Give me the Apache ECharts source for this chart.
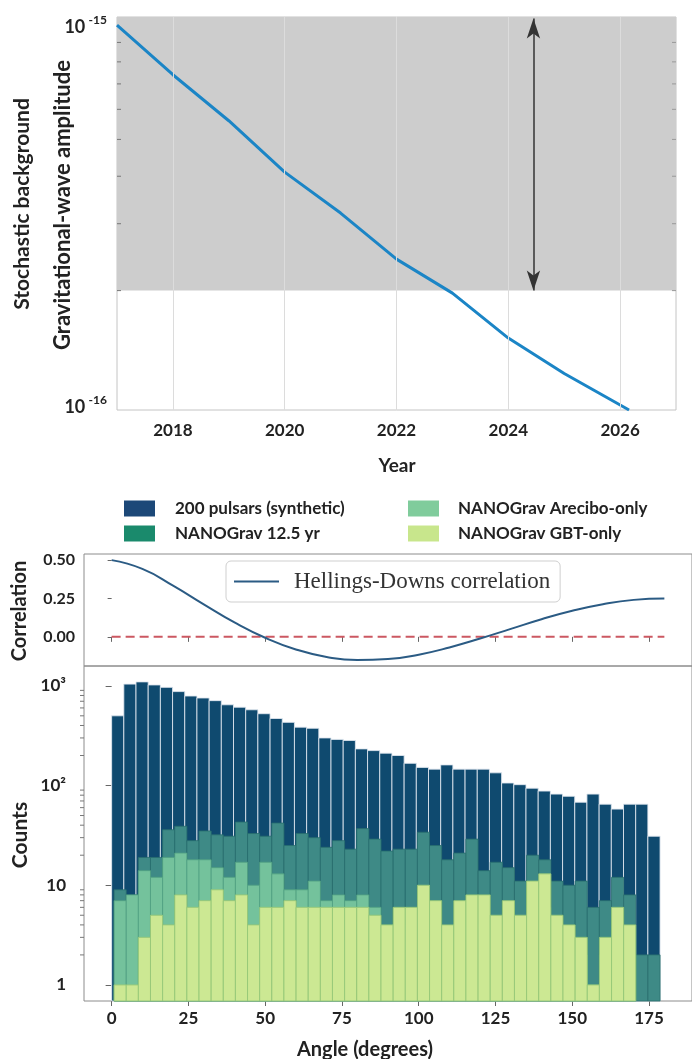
<!DOCTYPE html>
<html>
<head>
<meta charset="utf-8">
<title>PTA sensitivity and pulsar-pair histogram</title>
<script src="https://cdn.jsdelivr.net/npm/echarts@6/dist/echarts.min.js"></script>
<style>
  html, body { margin: 0; padding: 0; background: #fff; }
  #chart { width: 692px; height: 1059px; }
</style>
</head>
<body>
<div id="chart"></div>
<script>
// ---- top panel: projected upper limit on GW background amplitude ----
const years = [2017, 2018, 2019, 2020, 2021, 2022, 2023, 2024, 2025, 2026.16];
const amplitude = [1.0e-15, 7.4e-16, 5.6e-16, 4.1e-16, 3.2e-16, 2.42e-16, 1.97e-16, 1.50e-16, 1.21e-16, 0.97e-16];
const yearTicks = [2018, 2020, 2022, 2024, 2026];
const signalRange = [2e-16, 1.05e-15];   // shaded "expected signal" band
const arrowYear = 2024.45;

// ---- middle panel: Hellings-Downs curve ----
const hdAngle = [0, 10, 20, 30, 40, 50, 60, 70, 80, 90, 100, 110, 120, 130, 140, 150, 160, 170, 180];
const hdCorr = [0.500, 0.443, 0.334, 0.212, 0.094, -0.006, -0.082, -0.131, -0.151, -0.145,
                -0.116, -0.069, -0.011, 0.052, 0.115, 0.170, 0.213, 0.241, 0.250];
const angleTicks = [0, 25, 50, 75, 100, 125, 150, 175];

// ---- bottom panel: pulsar-pair counts per 4 degree bin ----
const pulsarRange = [0, 178.6];
const nanoRange = [0.8, 178.6];
const counts200 = [500, 1040, 1095, 1020, 965, 875, 790, 755, 710, 645, 610, 575, 525, 470, 430, 385, 375, 300, 290, 283,
                   233, 224, 211, 200, 167, 152, 146, 161, 146, 146, 146, 134, 106, 102, 94, 88, 82, 78, 68, 82,
                   65, 58, 65, 65, 31];
const countsNG125 = [9, 8, 19, 19, 36, 39, 28, 35, 32, 31, 43, 33, 31, 42, 25, 33, 30, 24, 28, 23,
                     37, 29, 22, 23, 23, 34, 25, 18, 21, 29, 14, 17, 15, 11, 20, 18, 11, 10, 11, 6,
                     7, 12, 8, 2, 2];
const countsArecibo = [7, 8, 14, 12, 19, 21, 18, 18, 15, 12, 17, 10, 17, 13, 9, 9, 11, 7, 8, 7,
                       8, 6, 4, 4, 4, 5, 4, 3, 4, 5, 4, 3, 4, 3, 5, 6, 3, 3, 2, 1,
                       2, 3, 2, null, null];
const countsGBT = [1, 1, 3, 5, 4, 8, 6, 7, 9, 7, 8, 4, 6, 6, 7, 6, 6, 6, 6, 6,
                   6, 5, 4, 6, 6, 10, 7, 4, 7, 8, 8, 5, 7, 5, 11, 13, 5, 4, 3, 1,
                   3, 6, 4, null, null];

const FONT = 'Lato, "Open Sans", sans-serif';
const INK = '#222';

const myChart = echarts.init(document.getElementById('chart'), null, { renderer: 'canvas' });

function isDecade(v) {
  const e = Math.log10(v);
  return Math.abs(e - Math.round(e)) < 1e-3;
}

function histSeries(name, counts, range, fill, edge, legendColor, z) {
  const w = (range[1] - range[0]) / counts.length;
  const data = [];
  counts.forEach((c, i) => {
    if (c != null) data.push([range[0] + i * w, range[0] + (i + 1) * w, c]);
  });
  return {
    name: name,
    type: 'custom',
    xAxisIndex: 2,
    yAxisIndex: 2,
    z: z,
    itemStyle: { color: legendColor },
    encode: { x: [0, 1], y: 2 },
    data: data,
    renderItem(params, api) {
      const a = api.coord([api.value(0), api.value(2)]);
      const b = api.coord([api.value(1), api.value(2)]);
      const base = params.coordSys.y + params.coordSys.height;
      return {
        type: 'rect',
        shape: { x: a[0], y: a[1], width: b[0] - a[0], height: base - a[1] },
        style: { fill: fill, stroke: edge, lineWidth: 1 }
      };
    }
  };
}

// log minor ticks (2..9 x 10^k), drawn through the axis scale
function minorTickSeries(xi, yi, values, xAt, inside, bothSides) {
  return {
    type: 'custom',
    xAxisIndex: xi,
    yAxisIndex: yi,
    z: 6,
    silent: true,
    encode: { x: 0, y: 1 },
    data: values.map(v => [xAt, v]),
    renderItem(params, api) {
      const cs = params.coordSys;
      const y = api.coord([api.value(0), api.value(1)])[1];
      const children = [];
      const len = 4;
      children.push({
        type: 'line',
        shape: inside ? { x1: cs.x, y1: y, x2: cs.x + len, y2: y } : { x1: cs.x - len, y1: y, x2: cs.x, y2: y },
        style: { stroke: '#777', lineWidth: 1 }
      });
      if (bothSides) {
        children.push({
          type: 'line',
          shape: { x1: cs.x + cs.width - len, y1: y, x2: cs.x + cs.width, y2: y },
          style: { stroke: '#999', lineWidth: 1 }
        });
      }
      return { type: 'group', children: children };
    }
  };
}

const histMinor = [];
[1, 10, 100, 1000].forEach(d => [2, 3, 4, 5, 6, 7, 8, 9].forEach(m => { if (m * d < 1580) histMinor.push(m * d); }));
const ampMinor = [2, 3, 4, 5, 6, 7, 8, 9].map(m => m * 1e-16);

const sup = { 2: '\u00b2', 3: '\u00b3' };

let option = {
  animation: false,
  backgroundColor: '#fff',
  grid: [
    { left: 117, right: 16, top: 17, height: 393, show: true, borderColor: '#c4c4c4', borderWidth: 1, backgroundColor: '#fff' },
    { left: 84, right: -6, top: 554, height: 112, show: true, borderColor: '#8c8c8c', borderWidth: 1 },
    { left: 84, right: -6, top: 666, height: 335, show: true, borderColor: '#8c8c8c', borderWidth: 1 }
  ],
  xAxis: [
    {
      type: 'value', gridIndex: 0, min: 2017, max: 2027,
      axisLine: { show: false }, axisTick: { show: false }, splitLine: { show: false },
      axisLabel: {
        customValues: yearTicks, margin: 12,
        formatter: v => String(v),
        fontFamily: FONT, fontWeight: 'bold', fontSize: 17, color: INK
      }
    },
    {
      type: 'value', gridIndex: 1, min: -9, max: 189,
      axisLine: { show: false }, splitLine: { show: false },
      axisTick: { customValues: angleTicks, length: 5, lineStyle: { color: '#666' } },
      axisLabel: { show: false }
    },
    {
      type: 'value', gridIndex: 2, min: -9, max: 189,
      axisLine: { show: false }, splitLine: { show: false },
      axisTick: { customValues: angleTicks, length: 5, lineStyle: { color: '#666' } },
      axisLabel: {
        customValues: angleTicks, margin: 9,
        formatter: v => String(v),
        fontFamily: FONT, fontWeight: 'bold', fontSize: 17, color: INK
      }
    }
  ],
  yAxis: [
    {
      type: 'log', gridIndex: 0, min: 0.97e-16, max: 1.05e-15,
      axisLine: { show: false }, axisTick: { show: false }, splitLine: { show: false },
      axisLabel: {
        showMinLabel: false, showMaxLabel: false, margin: 10,
        formatter: v => isDecade(v) ? '{b|10} {s|' + Math.round(Math.log10(v)) + '}' : '',
        rich: {
          b: { fontFamily: FONT, fontWeight: 'bold', fontSize: 18, color: INK, lineHeight: 22, verticalAlign: 'bottom' },
          s: { fontFamily: FONT, fontWeight: 'bold', fontSize: 12, color: INK, lineHeight: 12, verticalAlign: 'top' }
        }
      }
    },
    {
      type: 'value', gridIndex: 1, min: -0.19, max: 0.54,
      axisLine: { show: false }, splitLine: { show: false },
      axisTick: { customValues: [0, 0.25, 0.5], length: 4, lineStyle: { color: '#666' } },
      axisLabel: {
        customValues: [0, 0.25, 0.5], margin: 9,
        formatter: v => v.toFixed(2),
        fontFamily: FONT, fontWeight: 'bold', fontSize: 16, color: INK
      }
    },
    {
      type: 'log', gridIndex: 2, min: 0.69, max: 1580,
      axisLine: { show: false }, splitLine: { show: false },
      axisTick: { length: 6, lineStyle: { color: '#666' } },
      axisLabel: {
        showMinLabel: false, showMaxLabel: false, margin: 18,
        formatter: v => {
          if (!isDecade(v)) return '';
          const e = Math.round(Math.log10(v));
          return e === 0 ? '1' : e === 1 ? '10' : '10' + sup[e];
        },
        fontFamily: FONT, fontWeight: 'bold', fontSize: 17, color: INK
      }
    }
  ],
  legend: [
    {
      data: ['200 pulsars (synthetic)', 'NANOGrav 12.5 yr'],
      left: 124, top: 500, padding: 0, orient: 'vertical',
      icon: 'rect', itemWidth: 31, itemHeight: 16, itemGap: 8, selectedMode: false,
      textStyle: { fontFamily: FONT, fontWeight: 'bold', fontSize: 17, color: INK, padding: [0, 0, 0, 15] }
    },
    {
      data: ['NANOGrav Arecibo-only', 'NANOGrav GBT-only'],
      left: 408, top: 500, padding: 0, orient: 'vertical',
      icon: 'rect', itemWidth: 31, itemHeight: 16, itemGap: 8, selectedMode: false,
      textStyle: { fontFamily: FONT, fontWeight: 'bold', fontSize: 17, color: INK, padding: [0, 0, 0, 14] }
    },
    {
      data: ['Hellings-Downs correlation'],
      left: 226, top: 561, padding: [9, 10, 9, 8],
      borderColor: '#cfcfcf', borderWidth: 1, borderRadius: 5, backgroundColor: '#fff',
      icon: 'rect', itemWidth: 45, itemHeight: 2, selectedMode: false,
      textStyle: { fontFamily: '"Liberation Serif", "DejaVu Serif", serif', fontSize: 23, lineHeight: 21, color: '#333', padding: [0, 0, 0, 10] }
    }
  ],
  graphic: [
    { type: 'text', x: 22, y: 204, rotation: Math.PI / 2,
      style: { text: 'Stochastic background', font: 'bold 21px ' + FONT, fill: INK, align: 'center', verticalAlign: 'middle' } },
    { type: 'text', x: 63, y: 205, rotation: Math.PI / 2,
      style: { text: 'Gravitational-wave amplitude', font: 'bold 22px ' + FONT, fill: INK, align: 'center', verticalAlign: 'middle' } },
    { type: 'text', x: 397, y: 466,
      style: { text: 'Year', font: 'bold 19px ' + FONT, fill: INK, align: 'center', verticalAlign: 'middle' } },
    { type: 'text', x: 544, y: 117,
      style: { text: 'Expected\nstochastic\nbackground\nsignal range', font: 'bold 18px ' + FONT, lineHeight: 24,
               fill: INK, align: 'left', verticalAlign: 'top' } },
    { type: 'text', x: 20, y: 611, rotation: Math.PI / 2,
      style: { text: 'Correlation', font: 'bold 20px ' + FONT, fill: INK, align: 'center', verticalAlign: 'middle' } },
    { type: 'text', x: 20, y: 835, rotation: Math.PI / 2,
      style: { text: 'Counts', font: 'bold 21px ' + FONT, fill: INK, align: 'center', verticalAlign: 'middle' } },
    { type: 'text', x: 365, y: 1050,
      style: { text: 'Angle (degrees)', font: 'bold 20px ' + FONT, fill: INK, align: 'center', verticalAlign: 'middle' } }
  ],
  series: [
    {
      // shaded expected-signal band
      type: 'line', xAxisIndex: 0, yAxisIndex: 0, data: [], z: 1, silent: true,
      markArea: {
        silent: true,
        itemStyle: { color: '#cdcdcd' },
        data: [[{ yAxis: signalRange[0] }, { yAxis: signalRange[1] }]]
      }
    },
    {
      // vertical year grid lines
      type: 'line', xAxisIndex: 0, yAxisIndex: 0, data: [], z: 2, silent: true,
      markLine: {
        silent: true, symbol: 'none', label: { show: false },
        lineStyle: { color: '#dcdcdc', width: 1, type: 'solid' },
        data: yearTicks.map(y => ({ xAxis: y }))
      }
    },
    {
      name: 'amplitude',
      type: 'line', xAxisIndex: 0, yAxisIndex: 0, z: 3,
      data: years.map((y, i) => [y, amplitude[i]]),
      symbol: 'none',
      itemStyle: { color: '#1b85c6' },
      lineStyle: { color: '#1b85c6', width: 3 }
    },
    {
      // double arrow marking the signal range
      type: 'line', xAxisIndex: 0, yAxisIndex: 0, data: [], z: 4, silent: true,
      markLine: {
        silent: true, symbol: ['arrow', 'arrow'], symbolSize: [10, 20], label: { show: false },
        lineStyle: { color: '#333', width: 1.5, type: 'solid' },
        data: [[{ coord: [arrowYear, 1.04e-15] }, { coord: [arrowYear, signalRange[0]] }]]
      }
    },
    minorTickSeries(0, 0, ampMinor, 2017, true, true),
    {
      name: 'Hellings-Downs correlation',
      type: 'line', xAxisIndex: 1, yAxisIndex: 1, z: 3,
      data: hdAngle.map((a, i) => [a, hdCorr[i]]),
      smooth: true, symbol: 'none',
      itemStyle: { color: '#2b5b84' },
      lineStyle: { color: '#2b5b84', width: 2 }
    },
    {
      type: 'line', xAxisIndex: 1, yAxisIndex: 1, z: 2, silent: true,
      data: [[0, 0], [180, 0]],
      symbol: 'none',
      lineStyle: { color: '#cc5862', width: 2, type: [9, 5] }
    },
    histSeries('200 pulsars (synthetic)', counts200, pulsarRange, '#0f4a6f', 'rgba(225,232,240,0.85)', '#1c4878', 2),
    histSeries('NANOGrav 12.5 yr', countsNG125, nanoRange, '#3e8a86', 'rgba(40,110,110,0.8)', '#1a8a6c', 3),
    histSeries('NANOGrav Arecibo-only', countsArecibo, nanoRange, '#74c29c', 'rgba(80,160,130,0.8)', '#80cc9c', 4),
    histSeries('NANOGrav GBT-only', countsGBT, nanoRange, '#cce893', 'rgba(150,200,120,0.9)', '#c8e68c', 5),
    minorTickSeries(2, 2, histMinor, -9, false, false)
  ]
};

myChart.setOption(option);
</script>
</body>
</html>
